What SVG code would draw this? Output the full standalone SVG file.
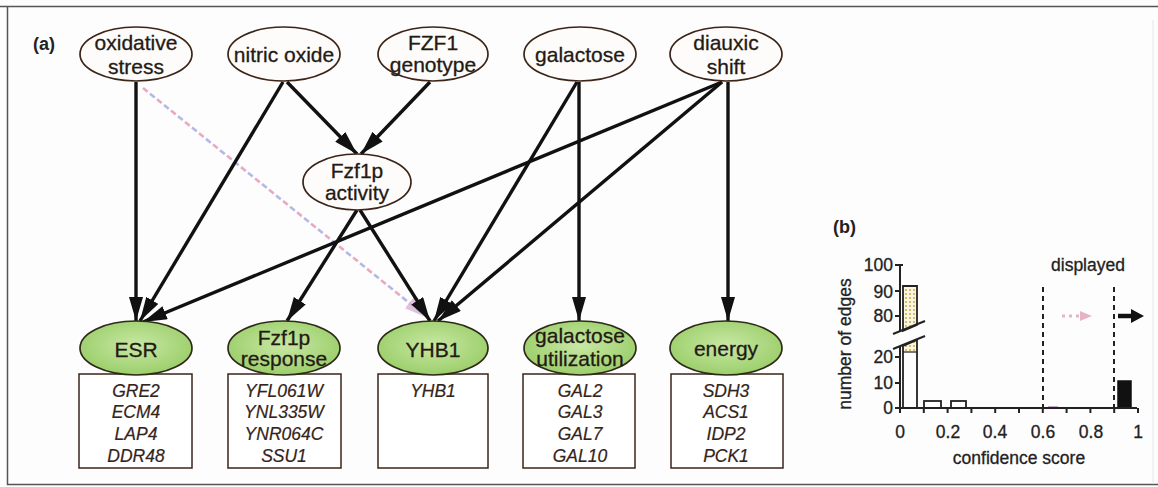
<svg xmlns="http://www.w3.org/2000/svg" width="1158" height="487" viewBox="0 0 1158 487">
  <defs>
    <style>
      .lbl { font-family: "Liberation Sans", Arial, sans-serif; font-size: 21px; fill: #241a14; stroke: #241a14; stroke-width: 0.3; text-anchor: middle; }
      .gene { font-family: "Liberation Sans", Arial, sans-serif; font-size: 17.5px; font-style: italic; fill: #35241a; stroke: #35241a; stroke-width: 0.2; text-anchor: middle; }
      .panel { font-family: "Liberation Sans", Arial, sans-serif; font-size: 18px; font-weight: bold; fill: #222; }
      .ax { font-family: "Liberation Sans", Arial, sans-serif; font-size: 17.5px; fill: #222; stroke: #222; stroke-width: 0.3; }
      .src { fill: #fefcfa; stroke: #3b2418; stroke-width: 1.7; }
      .mod { fill: url(#green); stroke: #2e2a18; stroke-width: 1.7; }
      .box { fill: #fff; stroke: #3b2418; stroke-width: 1.5; }
      .edge { stroke: #111; stroke-width: 3.4; fill: none; marker-end: url(#head); }
      .axis { stroke: #222; stroke-width: 2; fill: none; }
    </style>
    <radialGradient id="green" cx="50%" cy="45%" r="60%">
      <stop offset="0" stop-color="#c8e8a4"/>
      <stop offset="1" stop-color="#98cc66"/>
    </radialGradient>
    <marker id="head" markerUnits="userSpaceOnUse" markerWidth="26" markerHeight="16" refX="24" refY="7" orient="auto">
      <path d="M0,0 L24,7 L0,14 Z" fill="#111"/>
    </marker>
    <marker id="faint" markerUnits="userSpaceOnUse" markerWidth="26" markerHeight="16" refX="24" refY="7" orient="auto">
      <path d="M0,0 L24,7 L0,14 Z" fill="#d7b4d6" opacity="0.8"/>
    </marker>
    <pattern id="dots" width="4" height="4" patternUnits="userSpaceOnUse">
      <rect width="4" height="4" fill="#fbf6e0"/>
      <circle cx="2" cy="2" r="1" fill="#c9a848"/>
    </pattern>
  </defs>

  <rect width="1158" height="487" fill="#fdfdfd"/>

  <!-- outer frame -->
  <path d="M0,6.5 H1158 M7.5,6.5 V484.5 H1158" fill="none" stroke="#555" stroke-width="1.5"/>
  <line x1="1153" y1="20" x2="1153" y2="484" stroke="#e6e6e6" stroke-width="1"/>

  <text class="panel" x="33" y="50">(a)</text>

  <!-- connectors -->
  <g id="connectors">
    <line x1="143" y1="88" x2="428" y2="318" stroke="#e9a9c3" stroke-width="2.6" stroke-dasharray="6 12" marker-end="url(#faint)"/>
    <line x1="143" y1="88" x2="428" y2="318" stroke="#b4b8e6" stroke-width="2.6" stroke-dasharray="6 12" stroke-dashoffset="-9"/>
    <line class="edge" x1="136" y1="82" x2="136" y2="321"/>
    <line class="edge" x1="283" y1="82" x2="140" y2="321"/>
    <line class="edge" x1="722" y1="82" x2="143" y2="322"/>
    <line class="edge" x1="287" y1="82" x2="357" y2="154"/>
    <line class="edge" x1="430" y1="82" x2="361" y2="154"/>
    <line class="edge" x1="357" y1="210" x2="287" y2="321"/>
    <line class="edge" x1="360" y1="210" x2="430" y2="321"/>
    <line class="edge" x1="577" y1="82" x2="434" y2="321"/>
    <line class="edge" x1="722" y1="82" x2="438" y2="321"/>
    <line class="edge" x1="579" y1="82" x2="579" y2="321"/>
    <line class="edge" x1="728" y1="82" x2="728" y2="321"/>
  </g>

  <!-- input nodes -->
  <g id="oxidative-stress">
    <ellipse class="src" cx="136" cy="54" rx="56" ry="27"/>
    <text class="lbl" x="136" y="50">oxidative</text>
    <text class="lbl" x="136" y="74">stress</text>
  </g>
  <g id="nitric-oxide">
    <ellipse class="src" cx="284" cy="54" rx="56" ry="27"/>
    <text class="lbl" x="284" y="62">nitric oxide</text>
  </g>
  <g id="fzf1-genotype">
    <ellipse class="src" cx="433" cy="54" rx="55" ry="27"/>
    <text class="lbl" x="433" y="50">FZF1</text>
    <text class="lbl" x="433" y="72">genotype</text>
  </g>
  <g id="galactose">
    <ellipse class="src" cx="580" cy="54" rx="56" ry="27"/>
    <text class="lbl" x="580" y="62">galactose</text>
  </g>
  <g id="diauxic-shift">
    <ellipse class="src" cx="726" cy="54" rx="56" ry="27"/>
    <text class="lbl" x="726" y="50">diauxic</text>
    <text class="lbl" x="726" y="74">shift</text>
  </g>
  <g id="fzf1p-activity">
    <ellipse class="src" cx="357" cy="182" rx="54" ry="28"/>
    <text class="lbl" x="357" y="178">Fzf1p</text>
    <text class="lbl" x="357" y="200">activity</text>
  </g>

  <!-- modules with member genes -->
  <g id="esr">
    <rect class="box" x="79" y="374" width="113" height="94"/>
    <ellipse class="mod" cx="136" cy="348" rx="56" ry="27"/>
    <text class="lbl" x="136" y="357">ESR</text>
    <text class="gene" x="136" y="397">GRE2</text>
    <text class="gene" x="136" y="418">ECM4</text>
    <text class="gene" x="136" y="440">LAP4</text>
    <text class="gene" x="136" y="462">DDR48</text>
  </g>
  <g id="fzf1p-response">
    <rect class="box" x="228" y="374" width="113" height="94"/>
    <ellipse class="mod" cx="284" cy="348" rx="56" ry="27"/>
    <text class="lbl" x="284" y="345">Fzf1p</text>
    <text class="lbl" x="284" y="366">response</text>
    <text class="gene" x="284" y="397">YFL061W</text>
    <text class="gene" x="284" y="418">YNL335W</text>
    <text class="gene" x="284" y="440">YNR064C</text>
    <text class="gene" x="284" y="462">SSU1</text>
  </g>
  <g id="yhb1">
    <rect class="box" x="378" y="374" width="110" height="94"/>
    <ellipse class="mod" cx="433" cy="348" rx="55" ry="27"/>
    <text class="lbl" x="433" y="357">YHB1</text>
    <text class="gene" x="433" y="397">YHB1</text>
  </g>
  <g id="galactose-utilization">
    <rect class="box" x="523" y="374" width="112" height="94"/>
    <ellipse class="mod" cx="580" cy="348" rx="56" ry="27"/>
    <text class="lbl" x="580" y="343" font-size="20.5">galactose</text>
    <text class="lbl" x="580" y="366" font-size="20.5">utilization</text>
    <text class="gene" x="580" y="397">GAL2</text>
    <text class="gene" x="580" y="418">GAL3</text>
    <text class="gene" x="580" y="440">GAL7</text>
    <text class="gene" x="580" y="462">GAL10</text>
  </g>
  <g id="energy">
    <rect class="box" x="671" y="374" width="112" height="94"/>
    <ellipse class="mod" cx="726" cy="348" rx="56" ry="27"/>
    <text class="lbl" x="726" y="356">energy</text>
    <text class="gene" x="726" y="397">SDH3</text>
    <text class="gene" x="726" y="418">ACS1</text>
    <text class="gene" x="726" y="440">IDP2</text>
    <text class="gene" x="726" y="462">PCK1</text>
  </g>

  <!-- (b) histogram of edge confidence scores -->
  <g id="histogram">
    <text class="panel" x="833" y="233">(b)</text>

    <!-- bars -->
    <polygon points="903,286 917,286 917,325 903,331" fill="url(#dots)" stroke="#222" stroke-width="1.8"/>
    <polygon points="903,346 917,340 917,352 903,352" fill="url(#dots)"/>
    <polygon points="903,346 917,340 917,408 903,408" fill="none" stroke="#222" stroke-width="1.8"/>
    <line x1="903" y1="352" x2="917" y2="352" stroke="#222" stroke-width="1.2"/>
    <rect x="924" y="401" width="17" height="7" fill="#fff" stroke="#222" stroke-width="1.8"/>
    <rect x="951" y="401" width="15" height="7" fill="#fff" stroke="#222" stroke-width="1.8"/>
    <rect x="1118" y="381" width="13" height="27" fill="#111" stroke="#111" stroke-width="1.5"/>
    <line x1="1048" y1="407" x2="1058" y2="407" stroke="#d4a4d4" stroke-width="2"/>

    <!-- axes -->
    <path class="axis" d="M900,265 V331 M900,346 V408 H1137"/>
    <line x1="893" y1="334" x2="925" y2="321" stroke="#222" stroke-width="2"/>
    <line x1="893" y1="349" x2="925" y2="336" stroke="#222" stroke-width="2"/>
    <path class="axis" d="M895,265 H903 M895,291 H900 M895,316 H900 M895,357 H900 M895,383 H900 M895,408 H900"/>
    <path class="axis" d="M900,408 v5 M923.8,408 v5 M947.6,408 v5 M971.4,408 v5 M995.2,408 v5 M1019,408 v5 M1042.8,408 v5 M1066.6,408 v5 M1090.4,408 v5 M1114.2,408 v5 M1138,408 v5"/>

    <!-- y tick labels -->
    <text class="ax" x="893" y="271" text-anchor="end">100</text>
    <text class="ax" x="893" y="298" text-anchor="end">90</text>
    <text class="ax" x="893" y="322" text-anchor="end">80</text>
    <text class="ax" x="893" y="363" text-anchor="end">20</text>
    <text class="ax" x="893" y="389" text-anchor="end">10</text>
    <text class="ax" x="893" y="414" text-anchor="end">0</text>

    <!-- x tick labels -->
    <text class="ax" x="900" y="438" text-anchor="middle">0</text>
    <text class="ax" x="948" y="438" text-anchor="middle">0.2</text>
    <text class="ax" x="995" y="438" text-anchor="middle">0.4</text>
    <text class="ax" x="1043" y="438" text-anchor="middle">0.6</text>
    <text class="ax" x="1091" y="438" text-anchor="middle">0.8</text>
    <text class="ax" x="1138" y="438" text-anchor="middle">1</text>

    <text class="ax" x="1019" y="464" text-anchor="middle">confidence score</text>
    <text class="ax" x="845" y="344" text-anchor="middle" font-size="16.5" transform="rotate(-90 845 344)" dy="6">number of edges</text>

    <!-- displayed range -->
    <text class="ax" x="1088" y="271" text-anchor="middle">displayed</text>
    <line x1="1043" y1="287" x2="1043" y2="408" stroke="#222" stroke-width="2" stroke-dasharray="5 4"/>
    <line x1="1114" y1="287" x2="1114" y2="408" stroke="#222" stroke-width="2" stroke-dasharray="5 4"/>
    <line x1="1062" y1="316" x2="1080" y2="316" stroke="#e8b4c4" stroke-width="3" stroke-dasharray="3 4"/>
    <path d="M1080,311 L1092,316 L1080,321 Z" fill="#e8b4c4"/>
    <line x1="1118" y1="316" x2="1133" y2="316" stroke="#111" stroke-width="4.5"/>
    <path d="M1131,309 L1144,316 L1131,323 Z" fill="#111"/>
  </g>
</svg>
